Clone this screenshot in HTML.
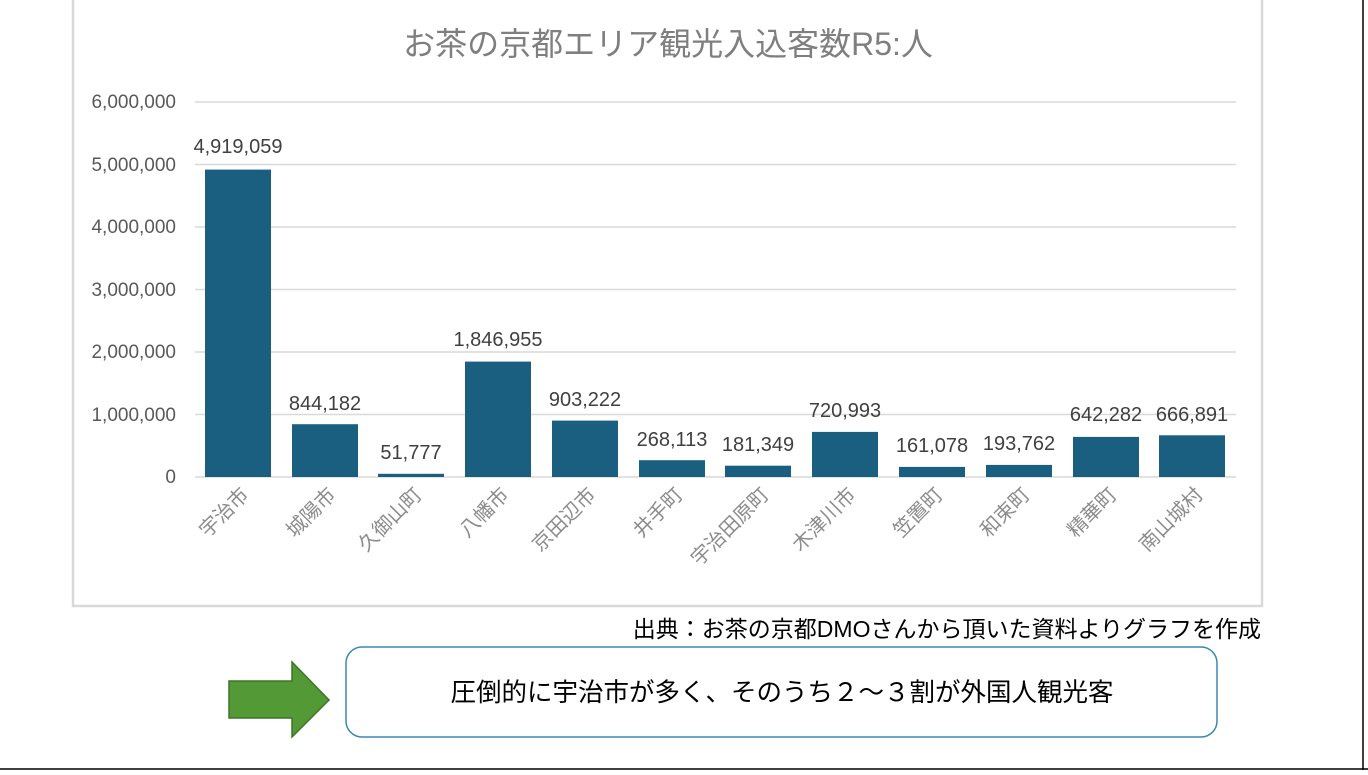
<!DOCTYPE html>
<html><head><meta charset="utf-8"><style>
html,body{margin:0;padding:0;background:#fff;}
svg text{font-family:"Liberation Sans","Noto Sans CJK JP",sans-serif;}
</style></head><body>
<svg width="1368" height="770" xmlns="http://www.w3.org/2000/svg">
<rect x="73" y="-2" width="1189" height="608" fill="#fff" stroke="#d9d9d9" stroke-width="2.5"/>
<text x="668" y="55" font-size="32" fill="#7f7f7f" text-anchor="middle">お茶の京都エリア観光入込客数R5:人</text>
<g stroke="#d9d9d9" stroke-width="1.5">
<line x1="195" x2="1236" y1="102" y2="102"/><line x1="195" x2="1236" y1="164.5" y2="164.5"/>
<line x1="195" x2="1236" y1="227" y2="227"/><line x1="195" x2="1236" y1="289.5" y2="289.5"/>
<line x1="195" x2="1236" y1="352" y2="352"/><line x1="195" x2="1236" y1="414.5" y2="414.5"/>
<line x1="195" x2="1236" y1="477" y2="477"/></g>
<g font-size="19" fill="#595959" text-anchor="end">
<text x="176" y="108">6,000,000</text><text x="176" y="171">5,000,000</text><text x="176" y="233">4,000,000</text>
<text x="176" y="296">3,000,000</text><text x="176" y="358">2,000,000</text><text x="176" y="421">1,000,000</text><text x="176" y="483">0</text></g>
<g fill="#1a5e80">
<rect x="205" y="169.6" width="66" height="307.4"/>
<rect x="292" y="424.2" width="66" height="52.8"/>
<rect x="378" y="473.8" width="66" height="3.2"/>
<rect x="465" y="361.6" width="66" height="115.4"/>
<rect x="552" y="420.6" width="66" height="56.4"/>
<rect x="639" y="460.2" width="66" height="16.8"/>
<rect x="725" y="465.7" width="66" height="11.3"/>
<rect x="812" y="431.9" width="66" height="45.1"/>
<rect x="899" y="466.9" width="66" height="10.1"/>
<rect x="986" y="464.9" width="66" height="12.1"/>
<rect x="1073" y="436.9" width="66" height="40.1"/>
<rect x="1159" y="435.3" width="66" height="41.7"/></g>
<g font-size="20" fill="#404040" text-anchor="middle">
<text x="238" y="153">4,919,059</text><text x="325" y="410">844,182</text><text x="411" y="459">51,777</text>
<text x="498" y="346">1,846,955</text><text x="585" y="406">903,222</text><text x="672" y="446">268,113</text>
<text x="758" y="451">181,349</text><text x="845" y="417">720,993</text><text x="932" y="452">161,078</text>
<text x="1019" y="450">193,762</text><text x="1106" y="421">642,282</text><text x="1192" y="421">666,891</text></g>
<g font-size="20" fill="#8c8c8c" text-anchor="end">
<text transform="translate(250,496) rotate(-45)">宇治市</text>
<text transform="translate(337,496) rotate(-45)">城陽市</text>
<text transform="translate(423,496) rotate(-45)">久御山町</text>
<text transform="translate(510,496) rotate(-45)">八幡市</text>
<text transform="translate(597,496) rotate(-45)">京田辺市</text>
<text transform="translate(684,496) rotate(-45)">井手町</text>
<text transform="translate(770,496) rotate(-45)">宇治田原町</text>
<text transform="translate(857,496) rotate(-45)">木津川市</text>
<text transform="translate(944,496) rotate(-45)">笠置町</text>
<text transform="translate(1031,496) rotate(-45)">和束町</text>
<text transform="translate(1118,496) rotate(-45)">精華町</text>
<text transform="translate(1204,496) rotate(-45)">南山城村</text></g>
<text x="1261" y="637" font-size="23" fill="#000" text-anchor="end">出典：お茶の京都DMOさんから頂いた資料よりグラフを作成</text>
<polygon points="229,681 292,681 292,662 329,700 292,737 292,718 229,718" fill="#539a36" stroke="#3d7526" stroke-width="1.5"/>
<rect x="346" y="647" width="871" height="90" rx="16" fill="#fff" stroke="#3a8ab0" stroke-width="1.5"/>
<text x="782" y="701" font-size="25.5" fill="#000" text-anchor="middle">圧倒的に宇治市が多く、そのうち２～３割が外国人観光客</text>
<line x1="1363" y1="0" x2="1363" y2="770" stroke="#000" stroke-width="1.5"/>
<line x1="0" y1="769" x2="1368" y2="769" stroke="#000" stroke-width="1.5"/>
</svg>
</body></html>
